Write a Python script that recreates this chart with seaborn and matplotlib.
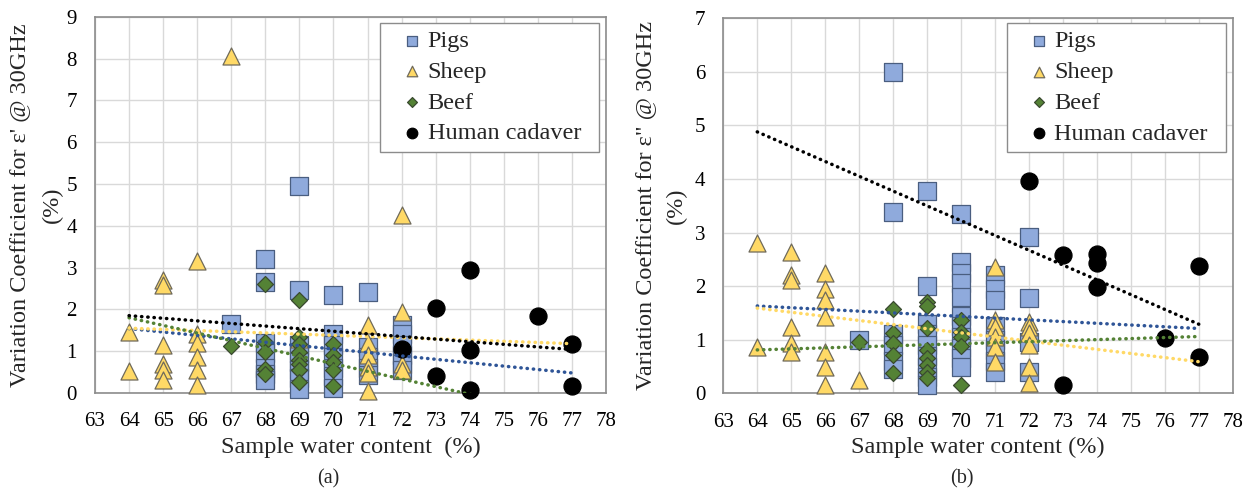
import numpy as np
import pandas as pd
import matplotlib
matplotlib.use("Agg")
import matplotlib.pyplot as plt
import seaborn as sns

# ---------------- data: panel (a), real part eps' ----------------
pigs_a_x = [67, 68, 68, 68, 68, 68, 68, 68,
            69, 69, 69, 69, 69, 69, 69, 69,
            70, 70, 70, 70, 70, 70, 70,
            71, 71, 71, 71, 71,
            72, 72, 72, 72, 72, 72]
pigs_a_y = [1.66, 3.2, 2.65, 1.2, 0.95, 0.6, 0.45, 0.3,
            4.95, 2.47, 1.15, 0.95, 0.75, 0.55, 0.35, 0.1,
            2.34, 1.4, 1.15, 0.85, 0.6, 0.4, 0.12,
            2.42, 1.1, 0.85, 0.6, 0.42,
            1.62, 1.4, 1.15, 0.9, 0.7, 0.54]

sheep_a_x = [64, 64, 65, 65, 65, 65, 65, 65, 66, 66, 66, 66, 66, 66, 67, 69,
             71, 71, 71, 71, 71, 71, 72, 72, 72, 72]
sheep_a_y = [1.45, 0.52, 2.7, 2.58, 1.15, 0.7, 0.55, 0.3, 3.15, 1.4, 1.2, 0.85, 0.55, 0.2, 8.05, 1.3,
             1.62, 1.19, 0.9, 0.62, 0.47, 0.05, 4.26, 1.94, 0.7, 0.54]

beef_a_x = [67, 68, 68, 68, 68, 68, 69, 69, 69, 69, 69, 69, 69, 69, 70, 70, 70, 70, 70]
beef_a_y = [1.12, 2.6, 1.22, 0.98, 0.58, 0.46, 2.23, 1.34, 1.18, 0.98, 0.78, 0.7, 0.54, 0.26,
            1.18, 0.9, 0.74, 0.54, 0.16]

human_a_x = [72, 73, 73, 74, 74, 74, 76, 77, 77]
human_a_y = [1.06, 2.04, 0.4, 2.94, 1.04, 0.08, 1.84, 1.16, 0.16]

# linear trend lines (value at x = 64 and x = 77)
trend_x = [64, 77]
trend_a_pigs = [1.54, 0.48]
trend_a_sheep = [1.55, 1.18]
trend_a_beef = [1.8, -0.58]
trend_a_human = [1.85, 1.04]

# ---------------- data: panel (b), imaginary part eps'' ----------------
pigs_b_x = [67, 68, 68, 68, 68, 68, 68,
            69, 69, 69, 69, 69, 69, 69, 69, 69,
            70, 70, 70, 70, 70, 70, 70, 70, 70, 70, 70,
            71, 71, 71, 71, 71, 71, 71, 71,
            72, 72, 72, 72]
pigs_b_y = [1.0, 6.0, 3.39, 1.1, 0.9, 0.6, 0.45,
            3.78, 2.0, 1.3, 1.1, 0.9, 0.7, 0.5, 0.3, 0.15,
            3.35, 2.45, 2.25, 2.05, 1.8, 1.45, 1.25, 1.05, 0.85, 0.65, 0.5,
            2.2, 1.95, 1.75, 1.25, 1.0, 0.8, 0.6, 0.4,
            2.92, 1.77, 0.95, 0.4]

sheep_b_x = [64, 64, 65, 65, 65, 65, 65, 65, 66, 66, 66, 66, 66, 66, 66, 67,
             71, 71, 71, 71, 71, 71, 72, 72, 72, 72, 72, 72]
sheep_b_y = [2.81, 0.86, 2.64, 2.21, 2.11, 1.24, 0.93, 0.78, 2.24, 1.94, 1.74, 1.43, 0.78, 0.5, 0.15, 0.25,
             2.36, 1.37, 1.24, 1.06, 0.87, 0.59, 1.34, 1.24, 1.12, 0.9, 0.5, 0.19]

beef_b_x = [67, 68, 68, 68, 68, 68, 69, 69, 69, 69, 69, 69, 69, 69, 70, 70, 70, 70, 70]
beef_b_y = [0.96, 1.57, 1.12, 0.93, 0.71, 0.37, 1.71, 1.63, 1.21, 0.81, 0.65, 0.53, 0.4, 0.28,
            1.37, 1.15, 1.06, 0.89, 0.16]

human_b_x = [72, 73, 73, 74, 74, 74, 76, 77, 77]
human_b_y = [3.97, 2.58, 0.15, 2.6, 2.43, 1.98, 1.03, 2.37, 0.67]

trend_b_pigs = [1.63, 1.21]
trend_b_sheep = [1.59, 0.59]
trend_b_beef = [0.81, 1.06]
trend_b_human = [4.88, 1.29]

x_ticks = list(range(63, 79))
y_ticks_a = list(range(0, 10))
y_ticks_b = list(range(0, 8))

# ---------------- styling ----------------
sns.set_style("white")
plt.rcParams["font.family"] = ["Liberation Serif", "DejaVu Serif"]

SERIES = {
    "Pigs": dict(marker="s", s=150, color="#8FAADC", edgecolor="#4A5E80"),
    "Sheep": dict(marker="^", s=150, color="#FFD966", edgecolor="#6F6A5A"),
    "Beef": dict(marker="D", s=66, color="#548235", edgecolor="#3A4A30"),
    "Human cadaver": dict(marker="o", s=150, color="#000000", edgecolor="#000000"),
}
TREND_COLORS = {"Pigs": "#2F5597", "Sheep": "#FFD966", "Beef": "#548235", "Human cadaver": "#000000"}

TITLE_FS = 17.5
W, H = 1255, 491
fig = plt.figure(figsize=(W / 100, H / 100), dpi=100)
ax_a = fig.add_axes([95 / W, 1 - 393 / H, 511 / W, 376.3 / H])
ax_b = fig.add_axes([723.3 / W, 1 - 393.3 / H, 509.4 / W, 375 / H])


def draw_panel(ax, points, trends, yticks, legend_box):
    ax.set_axisbelow(True)
    ax.grid(True, color="#D9D9D9", linewidth=1.0)
    handles = []
    for name, (xs, ys) in points.items():
        df = pd.DataFrame({"water": xs, "cv": ys})
        st = SERIES[name]
        sns.scatterplot(data=df, x="water", y="cv", ax=ax, marker=st["marker"], s=st["s"],
                        color=st["color"], edgecolor=st["edgecolor"], linewidth=0.9,
                        clip_on=False, zorder=3, legend=False)
        handles.append(ax.collections[-1])
    for name, ys in trends.items():
        df = pd.DataFrame({"water": trend_x, "cv": ys})
        sns.lineplot(data=df, x="water", y="cv", ax=ax, color=TREND_COLORS[name],
                     linewidth=2.5, linestyle=(0, (0.1, 1.7)), dash_capstyle="round",
                     zorder=4, legend=False)
    ax.set_xlim(63, 78)
    ax.set_ylim(0, yticks[-1])
    ax.set_xticks(x_ticks)
    ax.set_yticks(yticks)
    ax.tick_params(axis="both", length=0, labelsize=15, colors="#000000")
    ax.tick_params(axis="x", pad=14)
    ax.tick_params(axis="y", pad=13)
    for sp in ax.spines.values():
        sp.set_visible(True)
        sp.set_color("#8C8C8C")
        sp.set_linewidth(1.2)
    ax.set_ylabel("")
    leg = ax.legend(handles, list(points.keys()), loc="upper left",
                    bbox_to_anchor=legend_box, mode="expand", borderaxespad=0,
                    fontsize=17.5, markerscale=0.62, frameon=True, fancybox=False,
                    edgecolor="#8C8C8C", framealpha=1.0, borderpad=0.3,
                    labelspacing=0.36, handlelength=2.0, handletextpad=-0.35)
    leg.get_frame().set_linewidth(1.0)


draw_panel(ax_a,
           {"Pigs": (pigs_a_x, pigs_a_y), "Sheep": (sheep_a_x, sheep_a_y),
            "Beef": (beef_a_x, beef_a_y), "Human cadaver": (human_a_x, human_a_y)},
           {"Pigs": trend_a_pigs, "Sheep": trend_a_sheep, "Beef": trend_a_beef,
            "Human cadaver": trend_a_human},
           y_ticks_a, (0.558, 0.0, 0.4286, 0.984))
draw_panel(ax_b,
           {"Pigs": (pigs_b_x, pigs_b_y), "Sheep": (sheep_b_x, sheep_b_y),
            "Beef": (beef_b_x, beef_b_y), "Human cadaver": (human_b_x, human_b_y)},
           {"Pigs": trend_b_pigs, "Sheep": trend_b_sheep, "Beef": trend_b_beef,
            "Human cadaver": trend_b_human},
           y_ticks_b, (0.557, 0.0, 0.43, 0.9875))

ax_a.set_xlabel("Sample water content  (%)", fontsize=TITLE_FS, labelpad=4)
ax_b.set_xlabel("Sample water content (%)", fontsize=TITLE_FS, labelpad=4)

# two-line y axis titles
yc_a = 1 - (16.7 + 393) / 2 / H
yc_b = 1 - (18.3 + 393.3) / 2 / H
fig.text(21 / W, yc_a, "Variation Coefficient for ε' @ 30GHz", rotation=90,
         ha="center", va="center", fontsize=TITLE_FS)
fig.text(52 / W, yc_a, "(%)", rotation=90, ha="center", va="center", fontsize=TITLE_FS)
fig.text(647 / W, yc_b, 'Variation Coefficient for ε" @ 30GHz', rotation=90,
         ha="center", va="center", fontsize=TITLE_FS)
fig.text(676 / W, yc_b, "(%)", rotation=90, ha="center", va="center", fontsize=TITLE_FS)

# panel captions
fig.text(328 / W, 1 - 479 / H, "(a)", ha="center", va="center", fontsize=14.5)
fig.text(962 / W, 1 - 479 / H, "(b)", ha="center", va="center", fontsize=14.5)

fig.savefig("out.png", dpi=100, facecolor="white")
